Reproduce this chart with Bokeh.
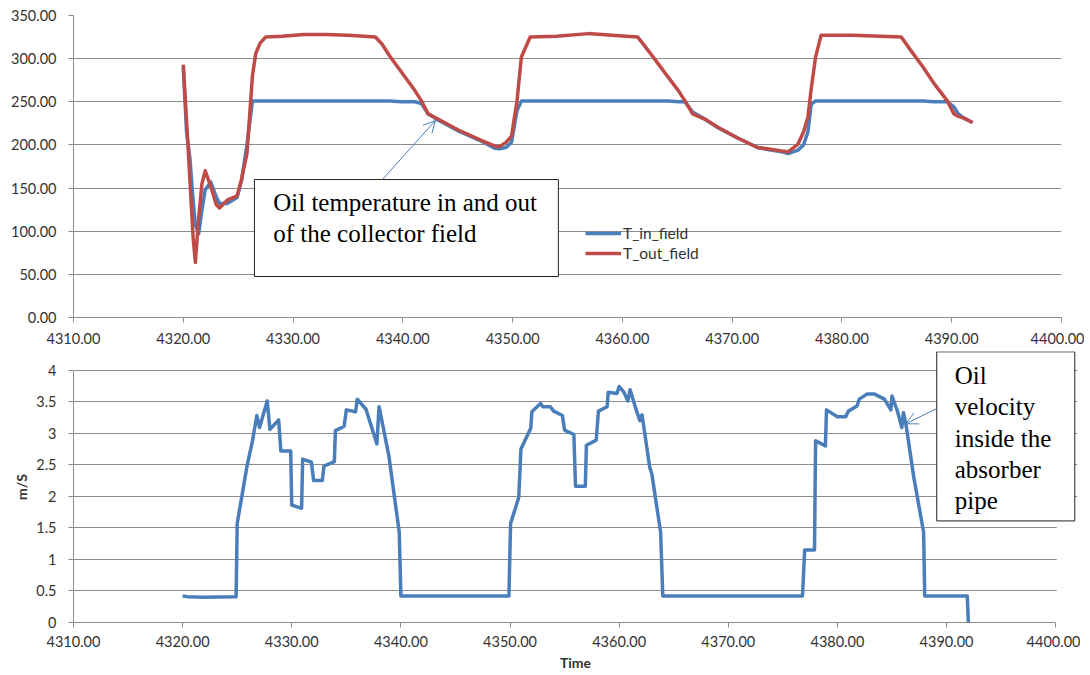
from bokeh.plotting import figure
from bokeh.models import (Range1d, FixedTicker, PrintfTickFormatter, NumeralTickFormatter,
                          Legend, LegendItem, BoxAnnotation, Label, Arrow, OpenHead)
from bokeh.layouts import column
from bokeh.embed import file_html
from bokeh.resources import INLINE

# ---------------- data ----------------
time_top = [4320.0, 4320.3, 4320.6, 4320.9, 4321.1, 4321.4, 4321.7, 4322.0, 4322.5, 4323.0,
            4323.3, 4324.0, 4324.9, 4325.3, 4325.8, 4326.3, 4326.6, 4327.0, 4327.5, 4329.0,
            4331.0, 4333.0, 4335.0, 4337.5, 4338.1, 4338.8, 4339.9, 4341.1, 4341.7, 4342.3,
            4343.2, 4345.1, 4347.2, 4348.4, 4348.8, 4349.4, 4349.9, 4350.4, 4350.8, 4351.6,
            4354.0, 4356.9, 4359.0, 4361.4, 4362.5, 4364.2, 4365.1, 4365.7, 4366.4, 4367.5,
            4368.7, 4370.5, 4372.3, 4373.5, 4374.5, 4375.1, 4376.0, 4376.5, 4376.9, 4377.2,
            4377.6, 4378.1, 4381.0, 4385.4, 4386.3, 4387.4, 4388.4, 4389.6, 4390.2, 4390.6,
            4391.1, 4391.9]
t_in_field = [290, 215, 185, 135, 108, 97, 125, 148, 157, 140,
              132, 132, 139, 158, 200, 251, 251, 251, 251, 251,
              251, 251, 251, 251, 251, 251, 250, 250, 248, 236,
              229, 216, 204, 196, 195.5, 197, 203, 240, 251, 251,
              251, 251, 251, 251, 251, 251, 250, 250, 238, 230,
              220, 208, 197, 194, 192, 190, 194, 200, 215, 247,
              251, 251, 251, 251, 251, 251, 250, 250, 244, 236,
              231, 226]
t_out_field = [293, 228, 160, 92, 64, 115, 155, 170, 152, 131,
               127, 136, 141, 160, 190, 280, 306, 318, 325, 326,
               328, 328, 327, 325, 317, 303, 284, 263, 251, 236,
               230, 217, 205, 198.5, 198, 203, 210, 251, 302, 325,
               326, 329, 327, 325, 307, 278, 263, 251, 236, 230,
               220.5, 208, 197, 195, 193, 192, 201, 215, 232, 265,
               302, 327, 327, 325, 309, 290, 271, 251, 236, 233,
               231, 226]

time_vel = [4320.0, 4320.4, 4321.9, 4324.9, 4325.0, 4325.46, 4325.9, 4326.4, 4326.8, 4327.05,
            4327.75, 4328.0, 4328.8, 4329.0, 4329.9, 4330.0, 4330.9, 4331.0, 4331.8, 4332.0,
            4332.8, 4332.95, 4333.9, 4334.0, 4334.8, 4335.0, 4335.85, 4336.0, 4336.8, 4337.8,
            4338.0, 4338.9, 4339.85, 4340.0, 4349.9, 4350.05, 4350.8, 4351.0, 4351.9, 4352.0,
            4352.8, 4353.0, 4353.7, 4354.0, 4354.8, 4355.0, 4355.85, 4356.0, 4356.9, 4357.0,
            4357.9, 4358.1, 4358.9, 4359.0, 4359.8, 4360.0, 4360.4, 4360.8, 4361.0, 4361.6,
            4361.9, 4362.1, 4362.8, 4363.0, 4363.8, 4364.0, 4376.8, 4377.0, 4377.9, 4378.0,
            4378.9, 4379.0, 4380.0, 4380.76, 4381.0, 4381.8, 4382.0, 4382.7, 4383.4, 4384.3,
            4384.9, 4385.0, 4385.5, 4385.9, 4386.05, 4386.3, 4387.0, 4387.9, 4388.0, 4391.9,
            4392.0]
oil_velocity = [0.42, 0.41, 0.40, 0.41, 1.57, 2.03, 2.48, 2.88, 3.28, 3.09,
                3.51, 3.06, 3.21, 2.72, 2.72, 1.86, 1.81, 2.59, 2.54, 2.25,
                2.25, 2.48, 2.55, 3.04, 3.11, 3.37, 3.34, 3.54, 3.38, 2.83,
                3.42, 2.64, 1.43, 0.42, 0.42, 1.57, 1.98, 2.75, 3.08, 3.34,
                3.47, 3.42, 3.42, 3.35, 3.28, 3.05, 2.98, 2.16, 2.16, 2.81,
                2.89, 3.35, 3.42, 3.65, 3.63, 3.74, 3.66, 3.51, 3.69, 3.35,
                3.20, 3.29, 2.46, 2.35, 1.43, 0.42, 0.42, 1.15, 1.15, 2.88,
                2.80, 3.37, 3.26, 3.26, 3.35, 3.43, 3.54, 3.62, 3.62, 3.54,
                3.37, 3.59, 3.35, 3.09, 3.33, 3.12, 2.30, 1.43, 0.42, 0.42,
                0.0]

x_ticks = [4310, 4320, 4330, 4340, 4350, 4360, 4370, 4380, 4390, 4400]
temp_ticks = [0, 50, 100, 150, 200, 250, 300, 350]
vel_ticks = [0, 0.5, 1, 1.5, 2, 2.5, 3, 3.5, 4]

series_names = ["T_in_field", "T_out_field"]
y_label_bottom = "m/S"
x_label_bottom = "Time"
note_top = "Oil temperature in and out\nof the collector field"
note_bottom = "Oil\nvelocity\ninside the\nabsorber\npipe"

BLUE = "#4a7ebb"
RED = "#be4b48"
GRID = "#8c8c8c"
TXT = "#333333"
FONT = "Lato"
SERIF = "Liberation Serif"


def style(p):
    p.outline_line_color = None
    p.xgrid.visible = False
    p.ygrid.grid_line_color = GRID
    p.ygrid.grid_line_width = 1
    for ax in (p.xaxis[0], p.yaxis[0]):
        ax.axis_line_color = GRID
        ax.major_tick_line_color = GRID
        ax.major_tick_out = 5
        ax.major_tick_in = 0
        ax.minor_tick_line_color = None
        ax.major_label_text_font = FONT
        ax.major_label_text_font_size = "14.5px"
        ax.major_label_text_color = TXT
    p.xaxis[0].ticker = FixedTicker(ticks=x_ticks)
    p.xaxis[0].formatter = PrintfTickFormatter(format="%.2f")
    p.xaxis[0].bounds = (4310, 4400)
    p.yaxis[0].major_label_standoff = 12


# ---------------- top chart ----------------
p1 = figure(frame_width=988, frame_height=302,
            x_range=Range1d(4310, 4400), y_range=Range1d(0, 350),
            output_backend="svg", toolbar_location=None,
            min_border_left=71, min_border_right=25, min_border_top=15, min_border_bottom=34)
style(p1)
p1.xaxis[0].major_label_standoff = 10
p1.yaxis[0].ticker = FixedTicker(ticks=temp_ticks)
p1.yaxis[0].formatter = PrintfTickFormatter(format="%.2f")

r_in = p1.line(time_top, t_in_field, line_color=BLUE, line_width=3.5, line_join="round")
r_out = p1.line(time_top, t_out_field, line_color=RED, line_width=3.5, line_join="round")

legend = Legend(items=[LegendItem(label=series_names[0], renderers=[r_in]),
                       LegendItem(label=series_names[1], renderers=[r_out])],
                location=(512, 54), padding=0, margin=0, spacing=0,
                glyph_width=36, glyph_height=20, label_height=20, label_standoff=2,
                border_line_alpha=0, background_fill_alpha=0,
                label_text_font=FONT, label_text_font_size="15.5px", label_text_color=TXT)
p1.add_layout(legend)

p1.add_layout(BoxAnnotation(left=4326.48, right=4354.17, bottom=47.5, top=159.9,
                            fill_color="white", fill_alpha=1, line_color="#222222",
                            line_width=1, line_alpha=1))
p1.add_layout(Label(x=4328.19, y=149.5, text=note_top, text_font=SERIF,
                    text_font_size="25px", text_color="black", text_baseline="top",
                    text_align="left", text_line_height=1.16))
p1.add_layout(Arrow(end=OpenHead(size=12, line_color=BLUE, line_width=1),
                    x_start=4338.14, y_start=159.9, x_end=4342.97, y_end=228.3,
                    line_color=BLUE, line_width=1))

# ---------------- bottom chart ----------------
# ranges run a little past the last tick so the note box can overhang the grid
p2 = figure(frame_width=1004, frame_height=271,
            x_range=Range1d(4310, 4402), y_range=Range1d(0, 4.295),
            output_backend="svg", toolbar_location=None,
            min_border_left=73, min_border_right=3, min_border_top=0, min_border_bottom=52)
style(p2)
p2.yaxis[0].ticker = FixedTicker(ticks=vel_ticks)
p2.yaxis[0].bounds = (0, 4)
p2.yaxis[0].formatter = NumeralTickFormatter(format="0.[0]")
p2.yaxis[0].axis_label = y_label_bottom
p2.yaxis[0].axis_label_text_font = FONT
p2.yaxis[0].axis_label_text_font_style = "bold"
p2.yaxis[0].axis_label_text_font_size = "14px"
p2.yaxis[0].axis_label_text_color = TXT
p2.yaxis[0].axis_label_standoff = 3
p2.xaxis[0].axis_label = x_label_bottom
p2.xaxis[0].axis_label_text_font = FONT
p2.xaxis[0].axis_label_text_font_style = "bold"
p2.xaxis[0].axis_label_text_font_size = "14px"
p2.xaxis[0].axis_label_text_color = TXT
p2.xaxis[0].axis_label_standoff = 4
p2.xaxis[0].major_label_standoff = 8

p2.line(time_vel, oil_velocity, line_color=BLUE, line_width=3.5, line_join="round")

# white mask hiding the grid past the last x tick, below the note box
p2.add_layout(BoxAnnotation(left=4400.1, right=4403, bottom=0.01, top=1.62,
                            fill_color="white", fill_alpha=1, line_alpha=0))
p2.add_layout(BoxAnnotation(left=4389.1, right=4401.75, bottom=1.61, top=4.29,
                            fill_color="white", fill_alpha=1, line_color="#222222",
                            line_width=1, line_alpha=1))
p2.add_layout(Label(x=4390.75, y=4.13, text=note_bottom, text_font=SERIF,
                    text_font_size="25px", text_color="black", text_baseline="top",
                    text_align="left", text_line_height=1.16))
p2.add_layout(Arrow(end=OpenHead(size=12, line_color=BLUE, line_width=1),
                    x_start=4389.1, y_start=3.39, x_end=4386.26, y_end=3.15,
                    line_color=BLUE, line_width=1))

layout = column(p1, p2, spacing=0)
open("out.html", "w").write(file_html(layout, INLINE))
